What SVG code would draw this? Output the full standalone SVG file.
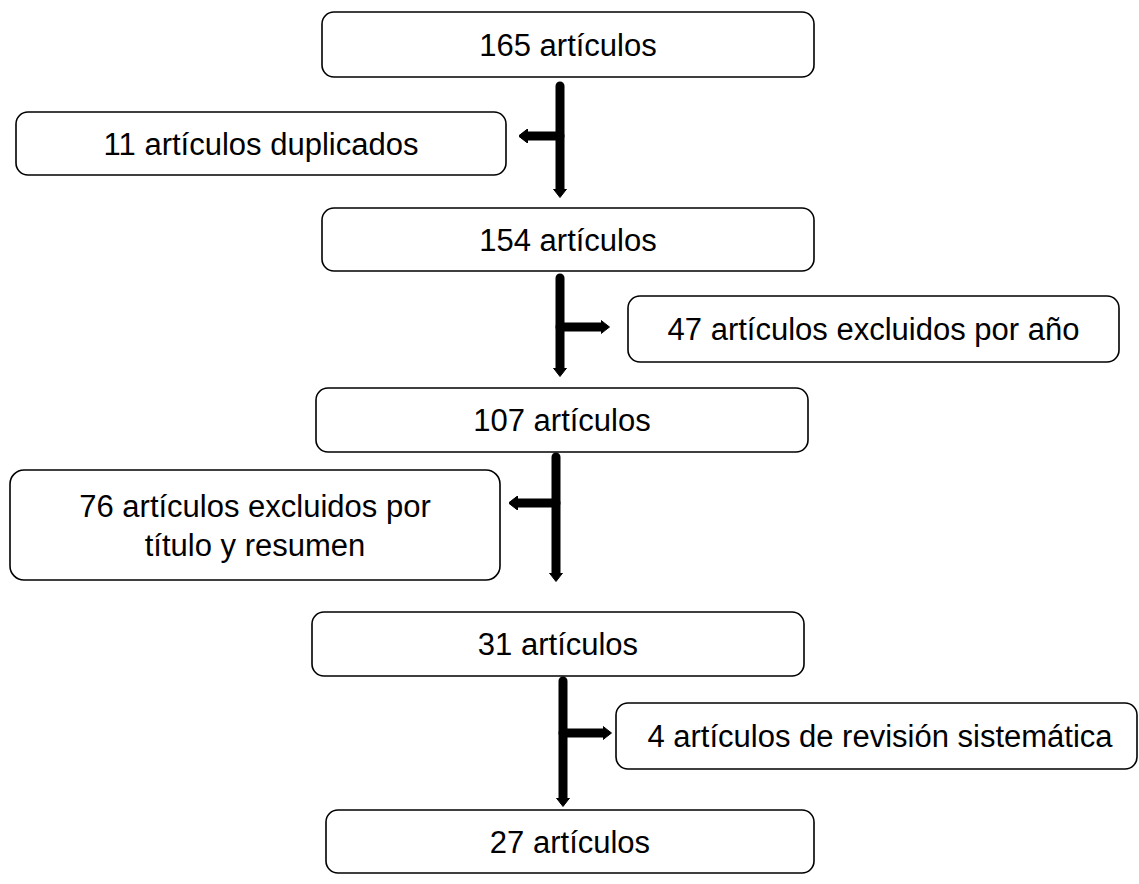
<svg xmlns="http://www.w3.org/2000/svg" width="1139" height="884" viewBox="0 0 1139 884">
<style>
.box{fill:#fff;stroke:#000;stroke-width:1.6}
.t{font-family:"Liberation Sans",Arial,sans-serif;font-size:31px;fill:#000;text-anchor:middle}
.c{stroke:#000;stroke-width:9;fill:none;stroke-linecap:round}
</style>
<defs>
<marker id="ah" viewBox="0 -7 9 14" refX="0.5" refY="0" markerWidth="9" markerHeight="14" markerUnits="userSpaceOnUse" orient="auto">
<path d="M0,-7 L9,0 L0,7 Z" fill="#000" stroke="#000" stroke-width="1" stroke-linejoin="round"/>
</marker>
</defs>
<rect width="1139" height="884" fill="#fff"/>
<g id="connectors">
<line class="c" x1="560" y1="86" x2="560" y2="189" marker-end="url(#ah)"/>
<line class="c" x1="560" y1="136" x2="527" y2="136" marker-end="url(#ah)"/>
<line class="c" x1="560" y1="278" x2="560" y2="368" marker-end="url(#ah)"/>
<line class="c" x1="560" y1="327" x2="601" y2="327" marker-end="url(#ah)"/>
<line class="c" x1="556" y1="457" x2="556" y2="573" marker-end="url(#ah)"/>
<line class="c" x1="556" y1="503" x2="517" y2="503" marker-end="url(#ah)"/>
<line class="c" x1="563" y1="681" x2="563" y2="798" marker-end="url(#ah)"/>
<line class="c" x1="563" y1="733" x2="603" y2="733" marker-end="url(#ah)"/>
</g>
<g id="n165"><rect class="box" x="322" y="12" width="492" height="65" rx="12"/><text class="t" x="568" y="56">165 artículos</text></g>
<g id="n11"><rect class="box" x="16" y="112" width="490" height="63" rx="12"/><text class="t" x="261" y="155">11 artículos duplicados</text></g>
<g id="n154"><rect class="box" x="322" y="208" width="492" height="63" rx="12"/><text class="t" x="568" y="251">154 artículos</text></g>
<g id="n47"><rect class="box" x="628" y="296" width="491" height="66" rx="12"/><text class="t" x="873.5" y="340">47 artículos excluidos por año</text></g>
<g id="n107"><rect class="box" x="316" y="388" width="492" height="64" rx="12"/><text class="t" x="562" y="431">107 artículos</text></g>
<g id="n76"><rect class="box" x="10" y="470" width="490" height="110" rx="14"/><text class="t" x="255" y="517">76 artículos excluidos por</text><text class="t" x="255" y="556">título y resumen</text></g>
<g id="n31"><rect class="box" x="312" y="612" width="492" height="64" rx="12"/><text class="t" x="558" y="655">31 artículos</text></g>
<g id="n4"><rect class="box" x="616" y="703" width="521" height="66" rx="12"/><text class="t" x="880" y="747">4 artículos de revisión sistemática</text></g>
<g id="n27"><rect class="box" x="326" y="810" width="488" height="63" rx="12"/><text class="t" x="570" y="853">27 artículos</text></g>
</svg>
